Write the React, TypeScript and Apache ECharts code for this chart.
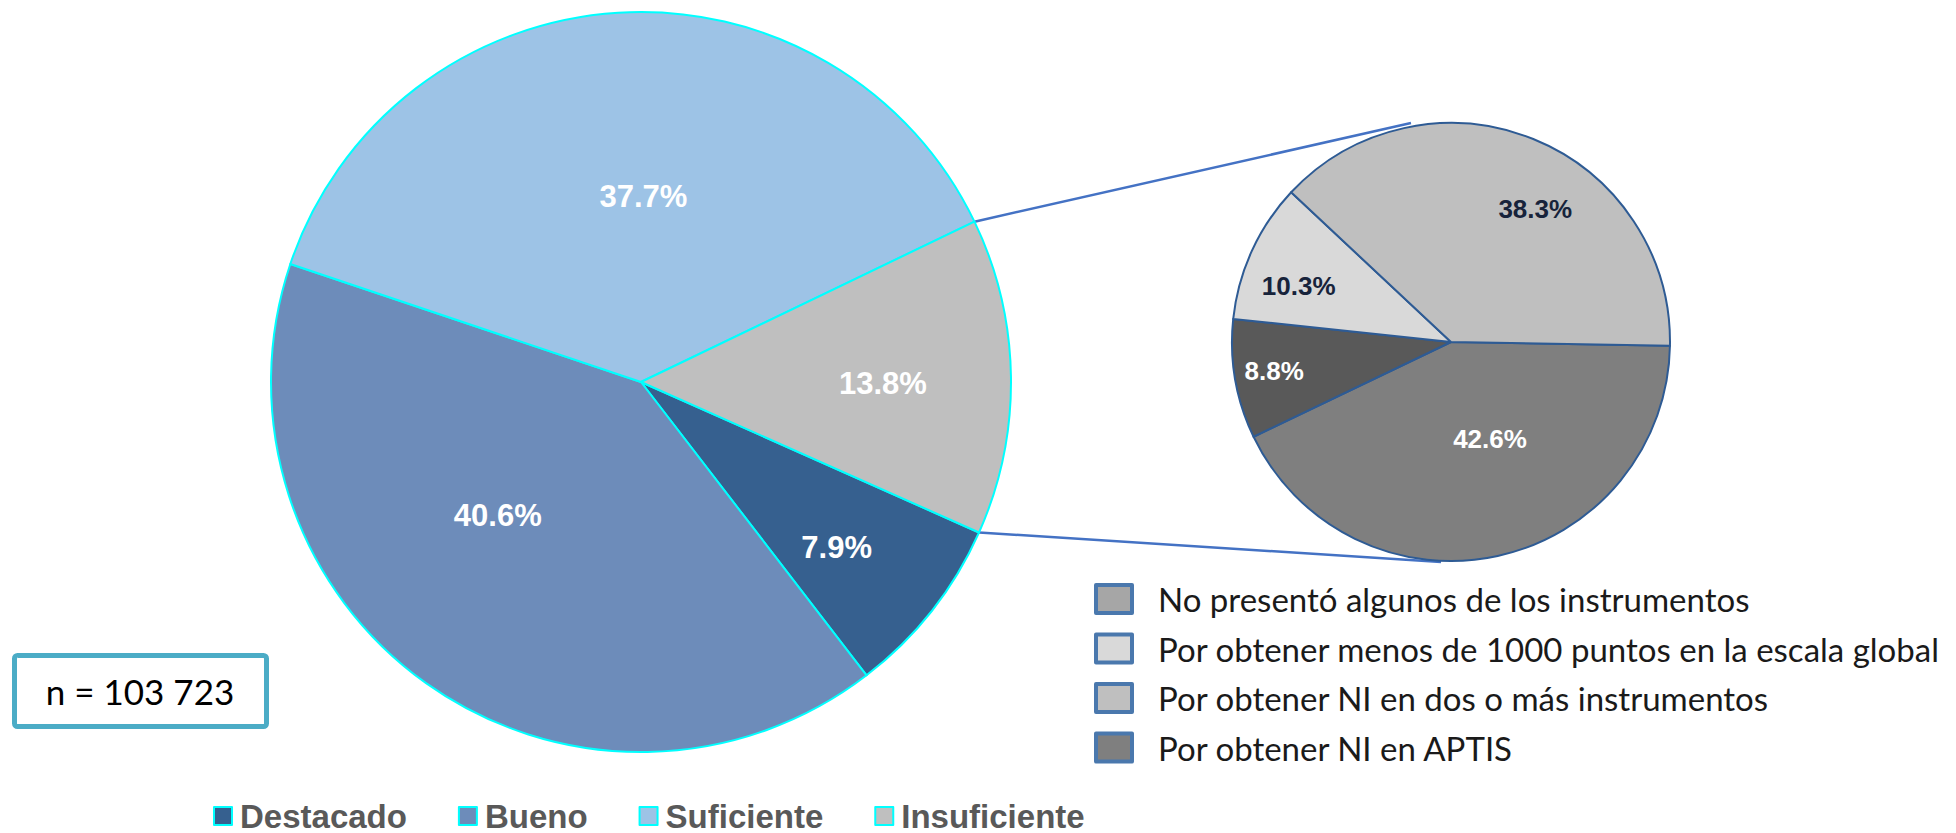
import React, { useEffect, useRef } from "react";
import * as echarts from "echarts";

// Main pie: nivel de desempeño
const mainCategories = ["Destacado", "Bueno", "Suficiente", "Insuficiente"];
const mainValues = [7.9, 40.6, 37.7, 13.8];

// Secondary pie: desglose de Insuficiente (clockwise order as drawn)
const subCategories = [
  "Por obtener NI en APTIS",
  "No presentó algunos de los instrumentos",
  "Por obtener menos de 1000 puntos en la escala global",
  "Por obtener NI en dos o más instrumentos",
];
const subValues = [42.6, 8.8, 10.3, 38.3];

// Legend order of the secondary pie
const subLegendOrder = [
  "No presentó algunos de los instrumentos",
  "Por obtener menos de 1000 puntos en la escala global",
  "Por obtener NI en dos o más instrumentos",
  "Por obtener NI en APTIS",
];

const sampleLabel = "n = 103 723";

// styling
const mainColors = ["#36608f", "#6d8cba", "#9dc3e6", "#bfbfbf"];
const subColors = ["#7f7f7f", "#595959", "#d9d9d9", "#bfbfbf"];
const subLabelColors = ["#ffffff", "#ffffff", "#17233b", "#17233b"];
const subLegendIconColors: Record<string, string> = {
  "No presentó algunos de los instrumentos": "#a6a6a6",
};
const mainLabelShift = [[48, 49], [-34, -20], [14, 2], [54, 4]];
const subLabelShift = [[15, -13], [-66, 10], [-50, -9], [42, -29]];

const MAIN_C = [641, 382];
const MAIN_R = 370;
const MAIN_START = -24;
const SUB_C = [1451, 342];
const SUB_R = 219;
const SUB_START = -1;

export default function App() {
  const ref = useRef<HTMLDivElement>(null);
  useEffect(() => {
    if (!ref.current) return;
    const chart = echarts.init(ref.current, undefined, { renderer: "svg" });

    const total = mainValues.reduce((a, b) => a + b, 0);
    const lastIdx = mainValues.length - 1;
    const cumBeforeLast = mainValues.slice(0, lastIdx).reduce((a, b) => a + b, 0);
    const angUpper = ((MAIN_START - (360 * cumBeforeLast) / total) * Math.PI) / 180;
    const angLower = (MAIN_START * Math.PI) / 180;
    const upperStart = [MAIN_C[0] + MAIN_R * Math.cos(angUpper), MAIN_C[1] - MAIN_R * Math.sin(angUpper)];
    const lowerStart = [MAIN_C[0] + MAIN_R * Math.cos(angLower), MAIN_C[1] - MAIN_R * Math.sin(angLower)];
    const upperEnd = [SUB_C[0] - 40, SUB_C[1] - SUB_R];
    const lowerEnd = [SUB_C[0] - 10, SUB_C[1] + SUB_R + 1];

    const option: any = {
      animation: false,
      backgroundColor: "#ffffff",
      legend: [
        {
          data: mainCategories,
          orient: "horizontal",
          left: 208,
          top: 794,
          icon: "rect",
          itemWidth: 18,
          itemHeight: 18,
          itemGap: 51,
          selectedMode: false,
          itemStyle: { borderColor: "#00ffff", borderWidth: 2 },
          textStyle: {
            fontFamily: "'Liberation Sans', Arial, sans-serif",
            fontWeight: "bold",
            fontSize: 33,
            lineHeight: 34,
            color: "#595959",
            padding: [0, 0, 0, 3],
          },
        },
        {
          data: subLegendOrder.map((n) =>
            subLegendIconColors[n] ? { name: n, itemStyle: { color: subLegendIconColors[n] } } : n
          ),
          orient: "vertical",
          left: 1089,
          top: 577,
          icon: "rect",
          itemWidth: 36,
          itemHeight: 28,
          itemGap: 15.5,
          selectedMode: false,
          itemStyle: { borderColor: "#4a78ad", borderWidth: 4 },
          textStyle: {
            fontFamily: "Lato, 'Open Sans', sans-serif",
            fontSize: 33,
            lineHeight: 34,
            color: "#1a1a1a",
            padding: [0, 0, 0, 21],
          },
        },
      ],
      series: [
        {
          type: "pie",
          center: MAIN_C,
          radius: [0, MAIN_R],
          startAngle: MAIN_START,
          clockwise: true,
          silent: true,
          emphasis: { disabled: true },
          data: mainCategories.map((name, i) => ({
            name,
            value: mainValues[i],
            itemStyle: { color: mainColors[i] },
          })),
          itemStyle: { borderColor: "#00ffff", borderWidth: 2 },
          label: {
            show: true,
            position: "inside",
            formatter: (p: any) => p.value.toFixed(1) + "%",
            color: "#ffffff",
            fontFamily: "'Liberation Sans', Arial, sans-serif",
            fontWeight: "bold",
            fontSize: 31,
          },
          labelLine: { show: false },
          labelLayout: (p: any) => ({ dx: mainLabelShift[p.dataIndex][0], dy: mainLabelShift[p.dataIndex][1] }),
        },
        {
          type: "pie",
          center: SUB_C,
          radius: [0, SUB_R],
          startAngle: SUB_START,
          clockwise: true,
          silent: true,
          emphasis: { disabled: true },
          data: subCategories.map((name, i) => ({
            name,
            value: subValues[i],
            itemStyle: { color: subColors[i] },
            label: { color: subLabelColors[i] },
          })),
          itemStyle: { borderColor: "#2e5b94", borderWidth: 2 },
          label: {
            show: true,
            position: "inside",
            formatter: (p: any) => p.value.toFixed(1) + "%",
            fontFamily: "'Liberation Sans', Arial, sans-serif",
            fontWeight: "bold",
            fontSize: 26,
          },
          labelLine: { show: false },
          labelLayout: (p: any) => ({ dx: subLabelShift[p.dataIndex][0], dy: subLabelShift[p.dataIndex][1] }),
        },
      ],
      graphic: [
        {
          type: "line",
          shape: { x1: upperStart[0], y1: upperStart[1], x2: upperEnd[0], y2: upperEnd[1] },
          style: { stroke: "#4472c4", lineWidth: 2.5 },
          z: 1,
        },
        {
          type: "line",
          shape: { x1: lowerStart[0], y1: lowerStart[1], x2: lowerEnd[0], y2: lowerEnd[1] },
          style: { stroke: "#4472c4", lineWidth: 2.5 },
          z: 1,
        },
        {
          type: "rect",
          shape: { x: 14.5, y: 655.5, width: 252, height: 71, r: 3 },
          style: { fill: "#ffffff", stroke: "#4bacc6", lineWidth: 5 },
        },
        {
          type: "text",
          x: 140,
          y: 691,
          style: {
            text: sampleLabel,
            fontFamily: "Lato, 'Open Sans', sans-serif",
            fontSize: 35,
            fill: "#000000",
            align: "center",
            verticalAlign: "middle",
          },
        },
      ],
    };
    chart.setOption(option);
    return () => chart.dispose();
  }, []);
  return (
    <div
      ref={ref}
      style={{ position: "fixed", left: 0, top: 0, width: 1956, height: 833, background: "#fff" }}
    />
  );
}
